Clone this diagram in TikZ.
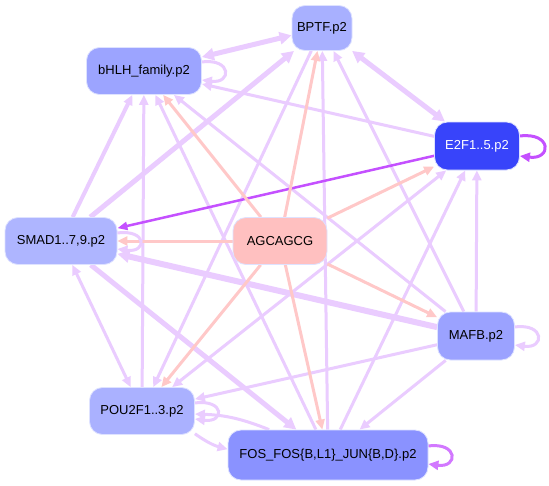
\documentclass[tikz,border=0pt]{standalone}
\usepackage{fontspec}
\setmainfont{Liberation Sans}
\usetikzlibrary{arrows.meta,backgrounds}
\definecolor{lav}{RGB}{234,204,255}
\definecolor{pinkE}{RGB}{255,200,200}
\definecolor{purp}{RGB}{196,80,255}
\definecolor{purpF}{RGB}{210,120,255}
\definecolor{nBPTF}{RGB}{168,176,255}
\definecolor{nBHLH}{RGB}{156,164,255}
\definecolor{nE2F}{RGB}{56,68,250}
\definecolor{nSMAD}{RGB}{174,181,255}
\definecolor{nAGC}{RGB}{255,192,192}
\definecolor{nMAFB}{RGB}{155,162,255}
\definecolor{nPOU}{RGB}{170,177,255}
\definecolor{nFOS}{RGB}{138,146,255}
\definecolor{nborder}{RGB}{222,226,255}
\tikzset{
  tfnode/.style={rectangle, rounded corners=13pt, draw=nborder, line width=0.8pt,
    inner sep=0pt, font=\fontsize{13}{15}\selectfont, text=black},
  tf/.style={draw=lav, line width=3pt, >={Triangle[length=10pt,width=9pt]}},
  tfthick/.style={draw=lav, line width=5pt, >={Triangle[length=12pt,width=12pt]}},
  motif/.style={draw=pinkE, line width=3pt, >={Triangle[length=10pt,width=9pt]}},
  strong/.style={draw=purp, line width=2.5pt, >={Triangle[length=10pt,width=8pt]}},
}
\begin{document}
\begin{tikzpicture}[x=1pt,y=-1pt]
\useasboundingbox (0,0) rectangle (549,485);
% nodes
\node[tfnode, fill=nBPTF, minimum width=60pt, minimum height=45pt] (bptf) at (322,28) {BPTF.p2};
\node[tfnode, fill=nBHLH, minimum width=115pt, minimum height=47pt] (bhlh) at (144,71) {bHLH\_family.p2};
\node[tfnode, fill=nE2F, text=white, minimum width=85pt, minimum height=48pt] (e2f) at (477,146) {E2F1..5.p2};
\node[tfnode, fill=nSMAD, minimum width=112pt, minimum height=47pt] (smad) at (61,241) {SMAD1..7,9.p2};
\node[tfnode, fill=nAGC, minimum width=94pt, minimum height=47pt] (agc) at (280,241) {AGCAGCG};
\node[tfnode, fill=nMAFB, minimum width=77pt, minimum height=48pt] (mafb) at (476,336) {MAFB.p2};
\node[tfnode, fill=nPOU, minimum width=105pt, minimum height=47pt] (pou) at (142,411) {POU2F1..3.p2};
\node[tfnode, fill=nFOS, minimum width=200pt, minimum height=50pt] (fos) at (328,455) {FOS\_FOS\{B,L1\}\_JUN\{B,D\}.p2};
\begin{scope}[on background layer]
\fill[white] (0,0) rectangle (549,485);
% TF to TF edges
\draw[tfthick,<->] (bptf) -- (bhlh);
\draw[tfthick,<->] (bptf) -- (e2f);
\draw[tfthick,->] (smad) -- (bptf);
\draw[tf,->] (mafb) -- (bptf);
\draw[tf,->] (fos) -- (bptf);
\draw[tf,->] (bptf) -- (pou);
\draw[tf,->] (e2f) -- (bhlh);
\draw[tf,line width=4pt,->] (smad) -- (bhlh);
\draw[tf,->] (pou) -- (bhlh);
\draw[tf,->] (fos) -- (bhlh);
\draw[tf,->] (mafb) -- (bhlh);
\draw[tfthick,line width=6pt,->] (mafb) -- (smad);
\draw[tf,<->] (pou) -- (smad);
\draw[tfthick,->] (smad) -- (fos);
\draw[tf,->] (mafb) -- (e2f);
\draw[tf,<->] (e2f) -- (pou);
\draw[tf,->] (fos) -- (e2f);
\draw[tf,->] (mafb) -- (pou);
\draw[tf,->] (mafb) -- (fos);
\draw[tf,->] (pou) to[bend right=10] (fos);
\draw[tf,->] (fos) to[bend right=10] (pou);
\draw[strong,->] (e2f) -- (smad);
% motif edges
\draw[motif,->] (agc) -- (bhlh);
\draw[motif,->] (agc) -- (bptf);
\draw[motif,->] (agc) -- (e2f);
\draw[motif,->] (agc) -- (smad);
\draw[motif,->] (agc) -- (mafb);
\draw[motif,->] (agc) -- (pou);
\draw[motif,->] (agc) -- (fos);
% self loops
\draw[tf,->] ([yshift=9pt]bhlh.east) .. controls +(30,-4) and +(30,4) .. ([yshift=-9pt]bhlh.east);
\draw[draw=purp,line width=3pt,>={Triangle[length=10pt,width=9pt]},->] ([yshift=10pt]e2f.east) .. controls +(32,-4) and +(32,4) .. ([yshift=-10pt]e2f.east);
\draw[tf,->] ([yshift=8pt]smad.east) .. controls +(30,-4) and +(30,4) .. ([yshift=-8pt]smad.east);
\draw[tf,->] ([yshift=9pt]mafb.east) .. controls +(30,-4) and +(30,4) .. ([yshift=-9pt]mafb.east);
\draw[tf,->] ([yshift=8pt]pou.east) .. controls +(30,-4) and +(30,4) .. ([yshift=-8pt]pou.east);
\draw[draw=purpF,line width=3pt,>={Triangle[length=10pt,width=9pt]},->] ([yshift=9pt]fos.east) .. controls +(30,-4) and +(30,4) .. ([yshift=-9pt]fos.east);
\end{scope}
\end{tikzpicture}
\end{document}
